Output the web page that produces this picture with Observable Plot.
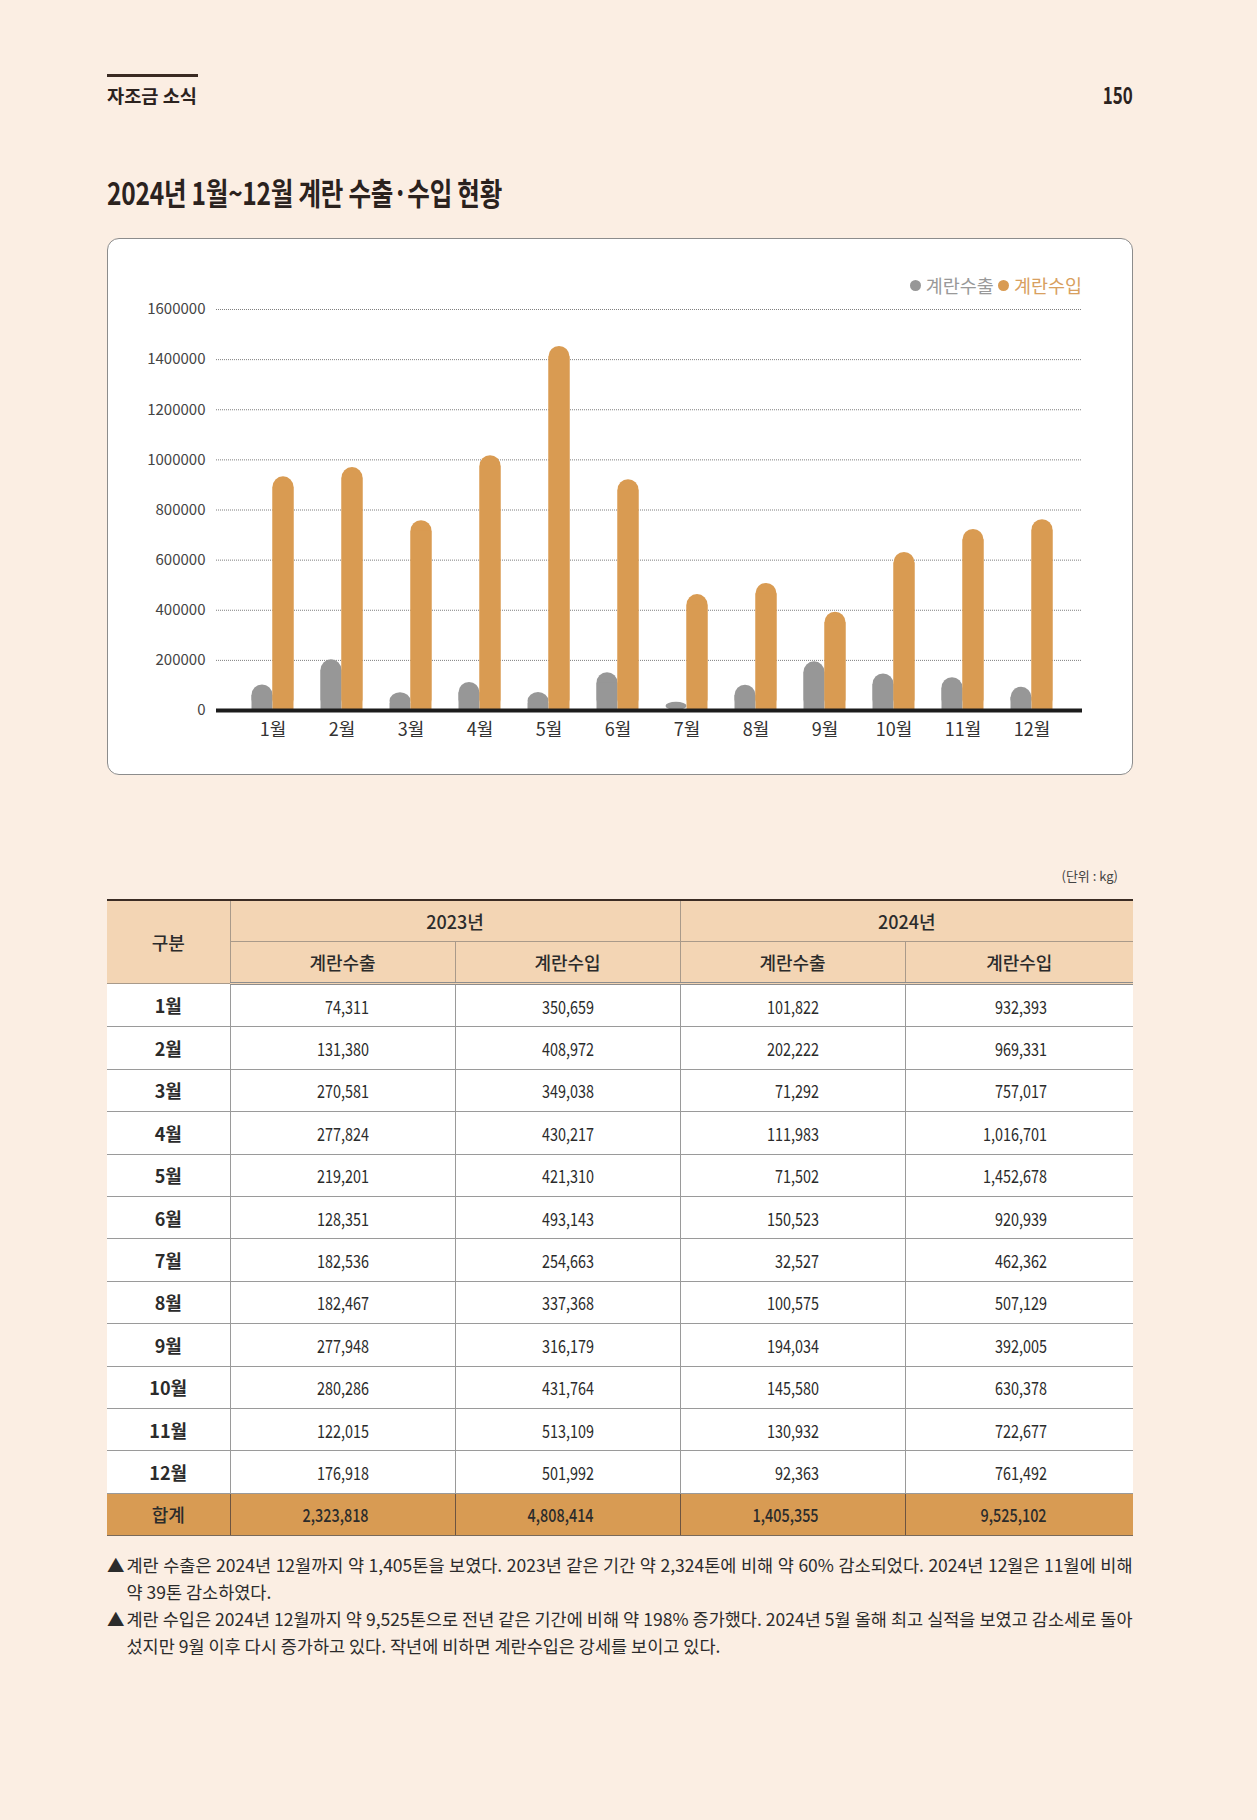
<!DOCTYPE html>
<html><head><meta charset="utf-8">
<script src="https://cdn.jsdelivr.net/npm/d3@7"></script>
<script src="https://cdn.jsdelivr.net/npm/@observablehq/plot@0.6"></script>
<style>
html,body{margin:0;padding:0;background:#FBEEE3;}
#page{position:relative;width:1257px;height:1820px;overflow:hidden;font-family:"Noto Sans CJK KR","Noto Sans",sans-serif;color:#2b2b2b;}
.abs{position:absolute;white-space:nowrap;}
.fit{display:inline-block;}
#hdrline{left:107px;top:74px;width:91px;height:2.5px;background:#3a2a22;}
#section{left:107px;top:83px;font-size:18px;font-weight:700;line-height:24px;color:#2b221e;}
#pageno{right:124px;top:80px;font-size:23px;font-weight:700;line-height:28px;color:#2b221e;}
#title{left:107px;top:175px;font-size:31px;font-weight:700;line-height:34px;color:#2b221e;letter-spacing:-0.3px;}
#box{left:107px;top:238px;width:1026px;height:537px;box-sizing:border-box;border:1px solid #8c8c8c;border-radius:12px;background:#fff;}
#chart{left:107px;top:238px;}
#legend{right:175px;top:272px;font-size:18.5px;line-height:26px;display:flex;align-items:center;}
#legend .dot{display:inline-block;width:11px;height:11px;border-radius:50%;margin-right:5px;}
#legend .item{display:flex;align-items:center;margin-left:4px;}
#unit{right:139px;top:866px;font-size:13px;line-height:20px;color:#444;}
table{position:absolute;left:107px;top:899px;width:1026px;border-collapse:collapse;table-layout:fixed;font-size:18px;color:#2b2b2b;}
th,td{padding:0;}
thead th{background:#F3D5B4;font-weight:500;height:40px;border:1px solid #a99a8a;}
thead tr:first-child th{border-top:2.5px solid #3b2c24;}
thead tr:last-child th{border-bottom:3px double #8d8d8d;}
th:first-child,td:first-child{border-left:none !important;}
th:last-child,td:last-child{border-right:none !important;}
tbody td{background:#fff;height:41.4px;border:1px solid #9a9a9a;}
tbody td.m{text-align:center;font-weight:700;}
td.n{text-align:right;padding-right:86px;}
td.n span{display:inline-block;transform:scaleX(0.8);transform-origin:right center;}
tr.total td{background:#D89B53;border-top:1.5px solid #3b2c24;border-bottom:1.5px solid #7a6a5a;border-left:1px solid #6d5440;border-right:1px solid #6d5440;font-weight:500;}
.notes{position:absolute;left:107px;width:1026px;font-size:17.5px;line-height:27px;color:#2b2b2b;}
.notes .tri{position:absolute;left:0;top:0;}
.notes .ln{margin-left:19.5px;white-space:nowrap;}
.notes .j{text-align:justify;text-align-last:justify;white-space:normal;width:1006px;}
</style></head>
<body><div id="page">
<div id="hdrline" class="abs"></div>
<div id="section" class="abs"><span class="fit" id="sectionT">자조금 소식</span></div>
<div id="pageno" class="abs"><span class="fit" id="pagenoT">150</span></div>
<div id="title" class="abs"><span class="fit" id="titleT">2024년 1월~12월 계란 수출·수입 현황</span></div>
<div id="box" class="abs"></div>
<div id="chart" class="abs"></div>
<div id="legend" class="abs"></div>
<div id="unit" class="abs">(단위 : kg)</div>
<div id="tablewrap"></div>
<div class="notes" id="note1" style="top:1551px"></div>
<div class="notes" id="note2" style="top:1605px"></div>
</div>
<script>
const months = ["1월","2월","3월","4월","5월","6월","7월","8월","9월","10월","11월","12월"];
const years = ["2023년","2024년"];
const seriesNames = ["계란수출","계란수입"];
const exp2023 = [74311,131380,270581,277824,219201,128351,182536,182467,277948,280286,122015,176918];
const imp2023 = [350659,408972,349038,430217,421310,493143,254663,337368,316179,431764,513109,501992];
const exp2024 = [101822,202222,71292,111983,71502,150523,32527,100575,194034,145580,130932,92363];
const imp2024 = [932393,969331,757017,1016701,1452678,920939,462362,507129,392005,630378,722677,761492];
const totalLabel = "합계";
const totals = [2323818,4808414,1405355,9525102];
const yTicks = [0,200000,400000,600000,800000,1000000,1200000,1400000,1600000];
const rowHead = "구분";
const note1 = ["계란 수출은 2024년 12월까지 약 1,405톤을 보였다. 2023년 같은 기간 약 2,324톤에 비해 약 60% 감소되었다. 2024년 12월은 11월에 비해","약 39톤 감소하였다."];
const note2 = ["계란 수입은 2024년 12월까지 약 9,525톤으로 전년 같은 기간에 비해 약 198% 증가했다. 2024년 5월 올해 최고 실적을 보였고 감소세로 돌아","섰지만 9월 이후 다시 증가하고 있다. 작년에 비하면 계란수입은 강세를 보이고 있다."];

const GRAY = "#979797", ORANGE = "#D99B52";
const R = 10.5;
const xm = (d, i) => months[i];
function roundedBars(vals, fill, il, ir) {
  return [
    Plot.barY(vals, {x: xm, y: d => d, fill, insetLeft: il, insetRight: ir, rx: R}),
    Plot.barY(vals, {x: xm, y: d => d, fill, insetLeft: il, insetRight: ir, insetTop: R})
  ];
}
const chart = Plot.plot({
  width: 1026, height: 536,
  marginLeft: 109, marginRight: 51, marginTop: 71, marginBottom: 64,
  style: {background: "transparent", fontFamily: "'Noto Sans CJK KR', sans-serif", overflow: "visible"},
  x: {domain: months, range: [131, 959], padding: 0, axis: null},
  y: {domain: [0, 1600000], axis: null},
  marks: [
    Plot.ruleY(yTicks.filter(d => d > 0), {stroke: "#7f7f7f", strokeWidth: 1, strokeDasharray: "1 1"}),
    ...roundedBars(exp2024, GRAY, 13.5, 34.5),
    ...roundedBars(imp2024, ORANGE, 34.5, 13.5),
    Plot.ruleY([0], {stroke: "#1c1c1c", strokeWidth: 4}),
    Plot.text(yTicks, {y: d => d, text: d => String(d), frameAnchor: "left", textAnchor: "end", dx: -11, fontSize: 15, fill: "#444"}),
    Plot.text(months, {x: d => d, text: d => d, frameAnchor: "bottom", dy: 25, fontSize: 18, fill: "#333"})
  ]
});
document.getElementById("chart").appendChild(chart);

// legend
const lg = document.getElementById("legend");
[[seriesNames[0], GRAY, "#999"], [seriesNames[1], ORANGE, "#D8A060"]].forEach(([name, c, tc]) => {
  const it = document.createElement("span");
  it.className = "item";
  it.innerHTML = `<span class="dot" style="background:${c}"></span><span style="color:${tc}">${name}</span>`;
  lg.appendChild(it);
});

// table
const fmt = d3.format(",");
let html = `<table><colgroup><col style="width:123px"><col style="width:225px"><col style="width:225px"><col style="width:225px"><col style="width:228px"></colgroup>`;
html += `<thead><tr><th rowspan="2">${rowHead}</th><th colspan="2">${years[0]}</th><th colspan="2">${years[1]}</th></tr>`;
html += `<tr><th>${seriesNames[0]}</th><th>${seriesNames[1]}</th><th>${seriesNames[0]}</th><th>${seriesNames[1]}</th></tr></thead><tbody>`;
months.forEach((m, i) => {
  html += `<tr><td class="m">${m}</td>` + [exp2023[i], imp2023[i], exp2024[i], imp2024[i]].map(v => `<td class="n"><span>${fmt(v)}</span></td>`).join("") + `</tr>`;
});
html += `<tr class="total"><td class="m">${totalLabel}</td>` + totals.map(v => `<td class="n"><span>${fmt(v)}</span></td>`).join("") + `</tr></tbody></table>`;
document.getElementById("tablewrap").innerHTML = html;

// notes
function buildNote(id, lines) {
  const el = document.getElementById(id);
  el.innerHTML = `<span class="tri">▲</span><div class="ln j">${lines[0]}</div><div class="ln">${lines[1]}</div>`;
}
buildNote("note1", note1);
buildNote("note2", note2);

function fit(id, w, origin) {
  const el = document.getElementById(id);
  el.style.transform = "none";
  const cw = el.getBoundingClientRect().width;
  if (cw > 0) { el.style.transformOrigin = origin; el.style.transform = `scaleX(${w / cw})`; }
}
function fitAll() {
  fit("titleT", 395, "left center");
  fit("sectionT", 90, "left center");
  fit("pagenoT", 30, "right center");
}
fitAll();
if (document.fonts && document.fonts.ready) document.fonts.ready.then(fitAll);
</script>
</body></html>
